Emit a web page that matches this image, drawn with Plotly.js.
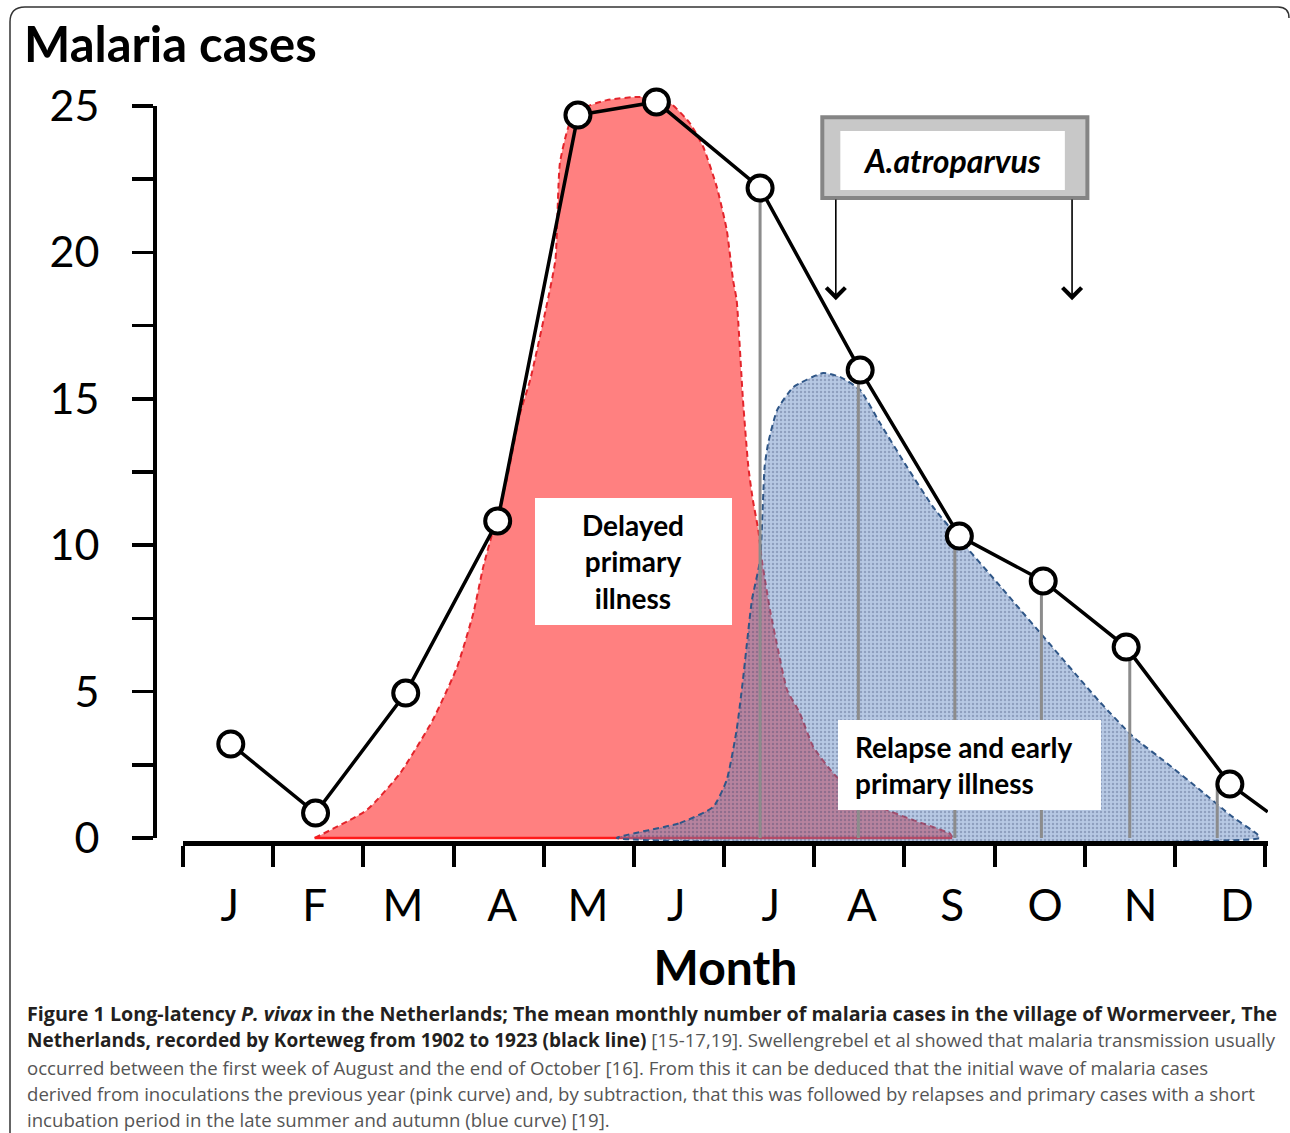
<!DOCTYPE html>
<html>
<head>
<meta charset="utf-8">
<script src="https://cdn.plot.ly/plotly-3.0.1.min.js"></script>
<style>html,body{margin:0;padding:0;background:#fff;}#chart{width:1290px;height:1133px;}</style>
</head>
<body>
<div id="chart"></div>
<script>
// ---- data ----
const months = ['J','F','M','A','M','J','J','A','S','O','N','D'];
const monthLabelX = [0.52, 1.46, 2.44, 3.54, 4.49, 5.47, 6.52, 7.53, 8.53, 9.56, 10.62, 11.69];
const monthBounds = [0,1,2,3,4,5,6,7,8,9,10,11,12];

// mean monthly malaria cases (black line)
const caseX = [0.53, 1.47, 2.47, 3.49, 4.38, 5.25, 6.40, 7.51, 8.61, 9.54, 10.46, 11.61];
const caseY = [3.21, 0.85, 4.95, 10.83, 24.69, 25.14, 22.2, 15.98, 10.31, 8.78, 6.52, 1.84];
const tailX = [12.03];
const tailY = [0.89];

// delayed primary illness (pink curve)
const pinkX = [1.46, 2.04, 2.41, 2.77, 3.04, 3.22, 3.33, 3.44, 3.59, 3.74, 3.85, 4.02, 4.13, 4.18, 4.29, 4.44, 4.70, 5.07, 5.40, 5.62, 5.77, 5.92, 6.03, 6.10, 6.14, 6.21, 6.27, 6.32, 6.38, 6.42, 6.51, 6.60, 6.70, 6.84, 6.99, 7.25, 7.73, 8.10, 8.51, 8.53];
const pinkY = [0, 0.96, 2.22, 4.03, 5.84, 7.68, 9.26, 10.52, 12.23, 14.52, 15.64, 18.0, 19.74, 23.05, 24.42, 24.93, 25.2, 25.31, 25.1, 24.42, 23.6, 22.23, 20.77, 19.06, 18.37, 14.96, 12.67, 11.54, 10.52, 9.49, 7.79, 6.42, 5.05, 4.27, 3.11, 2.08, 1.06, 0.61, 0.14, 0];

// relapse and early primary illness (blue curve)
const blueX = [4.81, 5.51, 5.88, 6.03, 6.14, 6.21, 6.31, 6.40, 6.45, 6.49, 6.59, 6.77, 7.10, 7.29, 7.51, 7.73, 8.03, 8.32, 8.62, 9.06, 10.17, 10.54, 10.91, 11.28, 11.64, 11.91, 11.94];
const blueY = [0, 0.51, 1.06, 1.98, 3.69, 5.40, 8.13, 9.49, 12.67, 13.49, 14.62, 15.40, 15.88, 15.74, 15.30, 14.17, 12.67, 11.30, 10.18, 8.61, 4.64, 3.45, 2.56, 1.64, 0.72, 0.14, 0];

// grey subtraction lines
const dropX = [6.40, 7.49, 8.56, 9.52, 10.50, 11.47];
const dropTop = [22.2, 15.98, 10.31, 8.78, 6.52, 1.84];

const yTicks = [0, 5, 10, 15, 20, 25];
const yMinorTicks = [2.5, 7.5, 12.5, 17.5, 22.5];

const captionLines = [
  '<b><span style="font-size:19.7px">Figure 1 Long-latency <i>P. vivax</i> in the Netherlands; The mean monthly number of malaria cases in the village of Wormerveer, The</span></b>',
  '<b><span style="font-size:19px">Netherlands, recorded by Korteweg from 1902 to 1923 (black line)</span></b> <span style="color:#555555">[15-17,19]. Swellengrebel et al showed that malaria transmission usually</span>',
  '<span style="color:#555555">occurred between the first week of August and the end of October [16]. From this it can be deduced that the initial wave of malaria cases</span>',
  '<span style="color:#555555">derived from inoculations the previous year (pink curve) and, by subtraction, that this was followed by relapses and primary cases with a short</span>',
  '<span style="color:#555555">incubation period in the late summer and autumn (blue curve) [19].</span>'
];

// ---- layout helpers (pixel -> paper) ----
const W = 1290, H = 1133;
const mL = 155, mR = 22, mT = 70, mB = 292;
const pw = W - mL - mR, ph = H - mT - mB;
const px = v => (v - mL) / pw;
const py = v => (H - mB - v) / ph;

const FONT = 'Lato, "Open Sans", sans-serif';

// drop lines built from arrays
const dX = [], dY = [];
dropX.forEach((x, i) => { dX.push(x, x, null); dY.push(0, dropTop[i], null); });

const traces = [
  { // pink fill
    x: pinkX, y: pinkY, type: 'scatter', mode: 'lines', fill: 'tozeroy',
    fillcolor: '#FF8080', line: {color: '#E3242B', width: 2, dash: '6px,4px', shape: 'spline', smoothing: 0.5},
    hoverinfo: 'skip', showlegend: false
  },
  { // pink base
    x: [pinkX[0], pinkX[pinkX.length - 1]], y: [0, 0], type: 'scatter', mode: 'lines',
    line: {color: '#FF1A1A', width: 2.5}, hoverinfo: 'skip', showlegend: false
  },
  { // blue fill
    x: blueX.concat([blueX[0]]), y: blueY.concat([blueY[0]]), type: 'scatter', mode: 'lines', fill: 'toself',
    fillcolor: 'rgba(95,135,195,0.45)',
    fillpattern: {shape: '.', bgcolor: 'rgba(95,135,195,0.45)', fgcolor: 'rgba(40,55,95,0.28)', size: 4, solidity: 0.3},
    line: {color: '#2F5687', width: 2, dash: '6px,4px', shape: 'spline', smoothing: 0.5},
    hoverinfo: 'skip', showlegend: false
  },
  { // grey subtraction lines
    x: dX, y: dY, type: 'scatter', mode: 'lines', line: {color: '#8C8C8C', width: 3},
    hoverinfo: 'skip', showlegend: false
  },
  { // black line
    x: caseX.concat(tailX), y: caseY.concat(tailY), type: 'scatter', mode: 'lines',
    line: {color: '#000000', width: 3.5}, hoverinfo: 'skip', showlegend: false
  },
  { // markers
    x: caseX, y: caseY, type: 'scatter', mode: 'markers', cliponaxis: false,
    marker: {size: 25, color: '#ffffff', line: {color: '#000000', width: 4}},
    showlegend: false
  },
  { // display y axis carrier
    x: [], y: [], type: 'scatter', mode: 'markers', xaxis: 'x', yaxis: 'y2', showlegend: false, hoverinfo: 'skip'
  }
];

const annotations = [
  {xref: 'x', yref: 'y', x: 4.996, y: 9.44, text: '<b>Delayed<br>primary<br>illness</b>', showarrow: false,
   font: {family: FONT, size: 28, color: '#000'}, align: 'center', xanchor: 'center', yanchor: 'middle'},
  {xref: 'x', yref: 'y', x: (853 - 183) / 90.17, y: 2.49, text: '<b>Relapse and early<br>primary illness</b>', showarrow: false,
   font: {family: FONT, size: 28, color: '#000'}, align: 'left', xanchor: 'left', yanchor: 'middle'},
  {xref: 'x', yref: 'y', x: 8.53, y: 23.15, text: '<b><i>A.atroparvus</i></b>', showarrow: false,
   font: {family: FONT, size: 32, color: '#000'}, xanchor: 'center', yanchor: 'middle'},
  {xref: 'x', yref: 'y', x: 7.24, y: 18.37, ax: 7.24, ay: 21.86, axref: 'x', ayref: 'y', text: '',
   showarrow: true, arrowhead: 4, arrowsize: 2.3, arrowwidth: 1.6, arrowcolor: '#000'},
  {xref: 'x', yref: 'y', x: 9.86, y: 18.37, ax: 9.86, ay: 21.86, axref: 'x', ayref: 'y', text: '',
   showarrow: true, arrowhead: 4, arrowsize: 2.3, arrowwidth: 1.6, arrowcolor: '#000'}
];
const captionY = [1013, 1040, 1067, 1093, 1119];
captionLines.forEach((t, i) => {
  annotations.push({xref: 'paper', yref: 'paper', x: px(25), y: py(captionY[i]), xanchor: 'left', yanchor: 'middle',
    text: t, showarrow: false, align: 'left', font: {family: '"Open Sans", sans-serif', size: 18.6, color: '#231F20'}});
});

const shapes = [
  // white text boxes
  {type: 'rect', xref: 'x', yref: 'y', x0: (535 - 183) / 90.17, x1: (732 - 183) / 90.17, y0: (838 - 625) / 29.28, y1: (838 - 498) / 29.28,
   fillcolor: '#ffffff', line: {width: 0}, layer: 'above'},
  {type: 'rect', xref: 'x', yref: 'y', x0: (838 - 183) / 90.17, x1: (1101 - 183) / 90.17, y0: (838 - 810) / 29.28, y1: (838 - 720) / 29.28,
   fillcolor: '#ffffff', line: {width: 0}, layer: 'above'},
  // A.atroparvus box
  {type: 'rect', xref: 'x', yref: 'y', x0: 7.09, x1: 10.03, y0: 21.86, y1: 24.62,
   fillcolor: '#C8C8C8', line: {color: '#858585', width: 4}, layer: 'above'},
  {type: 'rect', xref: 'x', yref: 'y', x0: 7.29, x1: 9.78, y0: 22.13, y1: 24.15,
   fillcolor: '#ffffff', line: {width: 0}, layer: 'above'},
  // figure frame
  {type: 'path', xref: 'paper', yref: 'paper',
   path: `M ${px(10)},${py(1140)} L ${px(10)},${py(22)} Q ${px(10)},${py(7)} ${px(25)},${py(7)} L ${px(1278)},${py(7)} Q ${px(1289)},${py(7)} ${px(1289)},${py(18)}`,
   line: {color: '#333333', width: 1.5}, layer: 'above'}
];

const layout = {
  width: W, height: H,
  margin: {l: mL, r: mR, t: mT, b: mB, pad: 0},
  paper_bgcolor: '#ffffff', plot_bgcolor: 'rgba(0,0,0,0)',
  showlegend: false,
  title: {text: '<b>Malaria cases</b>', xref: 'container', yref: 'container', x: 24 / W, xanchor: 'left',
          y: 1 - 45 / H, yanchor: 'middle', font: {family: FONT, size: 49, color: '#000'}},
  xaxis: {
    domain: [px(183), px(1268)], range: [0, 12.033], anchor: 'y',
    showline: true, linecolor: '#000', linewidth: 5, showgrid: false, zeroline: false,
    tickmode: 'array', tickvals: monthLabelX, ticktext: months, ticks: '',
    ticklabelstandoff: 22,
    tickfont: {family: FONT, size: 44, color: '#000'},
    minor: {tickmode: 'array', tickvals: monthBounds, ticks: 'outside', ticklen: 21, tickwidth: 4, tickcolor: '#000', showgrid: false},
    title: {text: '<b>Month</b>', font: {family: FONT, size: 48, color: '#000'}, standoff: 24},
    fixedrange: true
  },
  yaxis: {
    domain: [0, 1], range: [-3 / 29.28, (841 - mT) / 29.28 - 3 / 29.28], visible: false, fixedrange: true
  },
  yaxis2: {
    domain: [py(838), py(106)], range: [0, 25], anchor: 'free', position: 0,
    showline: true, linecolor: '#000', linewidth: 4, showgrid: false, zeroline: false,
    tickmode: 'array', tickvals: yTicks, ticktext: yTicks.map(String), ticks: 'outside', ticklen: 21, tickwidth: 3.5, tickcolor: '#000',
    ticklabelstandoff: 24,
    tickfont: {family: FONT, size: 43, color: '#000'},
    minor: {tickmode: 'array', tickvals: yMinorTicks, ticks: 'outside', ticklen: 21, tickwidth: 3.5, tickcolor: '#000', showgrid: false},
    fixedrange: true
  },
  annotations: annotations,
  shapes: shapes
};

Plotly.newPlot('chart', traces, layout, {staticPlot: true, displayModeBar: false});
</script>
</body>
</html>
